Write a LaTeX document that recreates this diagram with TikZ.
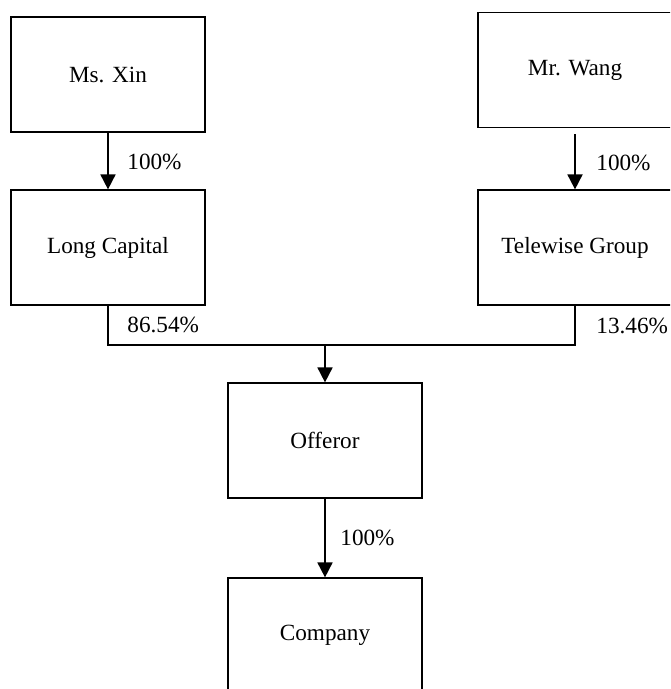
\documentclass[tikz,border=0pt]{standalone}
\usepackage{fontspec}
\setmainfont{Liberation Serif}
\usetikzlibrary{arrows.meta}
\begin{document}
\begin{tikzpicture}[x=0.5pt,y=-0.5pt,
  box/.style={draw,line width=0.6pt,minimum width=97pt,minimum height=57.5pt,inner sep=0pt,font=\fontsize{11.6}{14}\selectfont},
  pct/.style={anchor=west,inner sep=0pt,font=\fontsize{11.6}{14}\selectfont},
  conn/.style={line width=0.9pt},
  arr/.style={conn,-{Triangle[width=7.5pt,length=7.5pt]}}]
\clip (0,0) rectangle (670,689);
\fill[white] (0,0) rectangle (670,689);
\node[box] (xin) at (108,74.5) {Ms. Xin};
\node[box] (long) at (108,247.5) {Long Capital};
\node[box] (wang) at (575,70) {Mr. Wang};
\node[box] (tele) at (575,247.5) {Telewise Group};
\node[box] (off) at (325,440.5) {Offeror};
\node[box] (comp) at (325,635.5) {Company};
\coordinate (j) at (325,345);
\draw[arr] (xin.south) -- (long.north);
\draw[arr] ([yshift=-3pt]wang.south) -- (tele.north);
\draw[conn] (long.south) |- (j) -| (tele.south);
\draw[arr] (j) -- (off.north);
\draw[arr] (off.south) -- (comp.north);
\node[pct] (p1) at (127,162) {100\%};
\node[pct] (p2) at (596,163) {100\%};
\node[pct] (p3) at (127,325) {86.54\%};
\node[pct] (p4) at (596,326) {13.46\%};
\node[pct] (p5) at (340,538) {100\%};
\end{tikzpicture}
\end{document}
